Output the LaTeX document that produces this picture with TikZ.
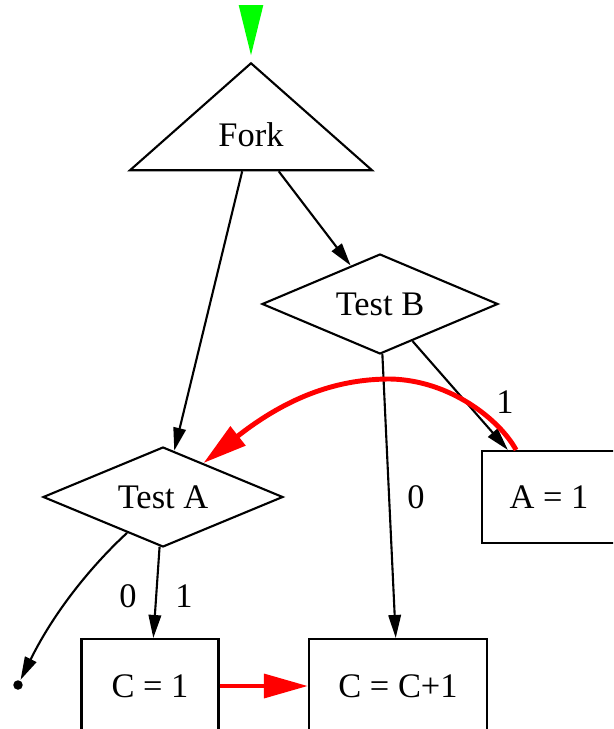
\documentclass[tikz,border=0pt]{standalone}
\usepackage{fontspec}
\setmainfont{Liberation Serif}
\usetikzlibrary{shapes.geometric,arrows.meta}

\begin{document}
\begin{tikzpicture}[x=0.02cm,y=-0.02cm,
    font=\fontsize{19.6}{23}\selectfont,
    line width=1.2pt,
    blackarrow/.style={-{Triangle[length=0.46cm,width=0.25cm]}},
    redarrow/.style={red,line width=2.8pt,-{Triangle[length=0.88cm,width=0.47cm]}},
    testnode/.style={draw,diamond,aspect=2.4,inner sep=0pt,minimum height=2cm},
    assignnode/.style={draw,rectangle,inner sep=0pt,minimum height=1.84cm}]

    \useasboundingbox (0,0) rectangle (613,729);
    \clip (0,0) rectangle (613,729);

    %Nodes
    \node[draw,isosceles triangle,shape border rotate=90,isosceles triangle stretches,minimum width=4.84cm,minimum height=2.14cm,inner sep=0pt] (fork) at (251,135) {Fork};
    \node[testnode,minimum width=4.72cm] (testb) at (380,304) {Test B};
    \node[testnode,minimum width=4.8cm] (testa) at (163,497) {Test A};
    \node[assignnode,minimum width=2.68cm] (aone) at (549,497) {A = 1};
    \node[assignnode,minimum width=2.74cm,minimum height=1.88cm] (cone) at (150,686) {C = 1};
    \node[assignnode,minimum width=3.56cm,minimum height=1.88cm] (cinc) at (398,686) {C = C+1};
    \node[circle,fill,inner sep=0pt,minimum size=0.19cm] (exitpt) at (18,685) {};
    \coordinate (entry) at (251,10);

    %Labels
    \node (lbtrue) at (505,402) {1};
    \node (lbfalse) at (416,497) {0};
    \node (latrue) at (184,596) {1};
    \node (lafalse) at (128,596) {0};

    %Edges
    \draw[green,-{Triangle[length=1cm,width=0.48cm]},shorten >=3pt] (entry) -- (fork.apex);
    \draw[blackarrow] (fork) -- (testa);
    \draw[blackarrow] (fork) -- (testb);
    \draw[blackarrow] (testb) -- (aone);
    \draw[blackarrow] (testb) -- (cinc);
    \draw[blackarrow] (testa) -- (cone);
    \draw[blackarrow] (testa.225) .. controls (105,553) and (60,600) .. (exitpt);
    \draw[redarrow] (cone) -- (cinc);
    \draw[redarrow] (aone.125) .. controls (500,420) and (450,380) .. (390,379)
        .. controls (340,379) and (290,395) .. (testa.40);

\end{tikzpicture}
\end{document}
